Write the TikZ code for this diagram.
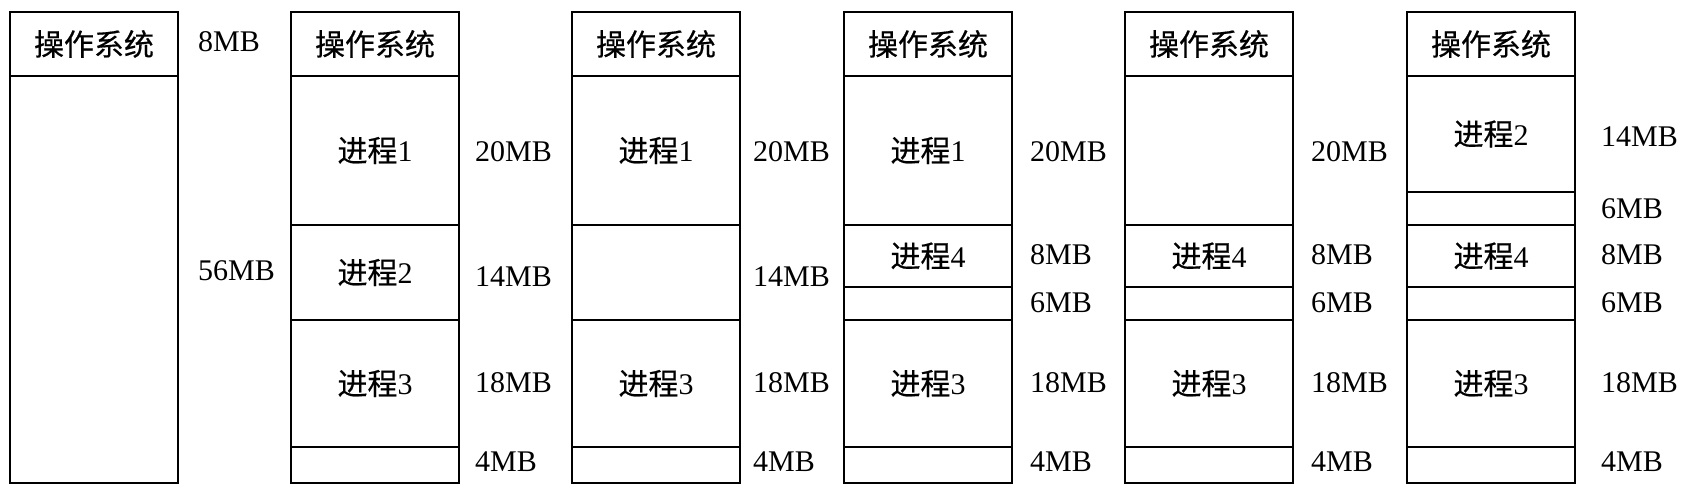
\documentclass[tikz,border=0pt]{standalone}
\usepackage{fontspec}
\setmainfont{Liberation Serif}
\newfontfamily\cjk[FakeBold=0.5]{Noto Sans CJK SC}
\newcommand\bigfnt{\fontsize{30pt}{36pt}\selectfont}
\begin{document}
\begin{tikzpicture}[x=1pt,y=-1pt]
\tikzset{
  seg/.style={draw, line width=1.8pt, minimum width=168pt, inner sep=0pt, outer sep=0pt, anchor=north west, font=\bigfnt},
  frame/.style={draw, line width=2.8pt},
  lbl/.style={anchor=west, inner sep=0pt, font=\bigfnt}
}
\useasboundingbox (0,0) rectangle (1690,492);
% column 1
\node[seg, minimum height=64pt]  (a0) at (10,12) {\cjk 操作系统};
\node[seg, minimum height=407pt] (a1) at (10,76) {};
\draw[frame] (a0.north west) rectangle (a1.south east);
\node[lbl] (la0) at (198,42) {8MB};
\node[lbl] (la1) at (198,271) {56MB};
% column 2
\node[seg, minimum height=64pt]  (b0) at (291,12) {\cjk 操作系统};
\node[seg, minimum height=149pt] (b1) at (291,76) {{\cjk 进程}1};
\node[seg, minimum height=95pt]  (b2) at (291,225) {{\cjk 进程}2};
\node[seg, minimum height=127pt] (b3) at (291,320) {{\cjk 进程}3};
\node[seg, minimum height=36pt]  (b4) at (291,447) {};
\draw[frame] (b0.north west) rectangle (b4.south east);
\node[lbl] (lb1) at (475,152) {20MB};
\node[lbl] (lb2) at (475,277) {14MB};
\node[lbl] (lb3) at (475,383) {18MB};
\node[lbl] (lb4) at (475,462) {4MB};
% column 3
\node[seg, minimum height=64pt]  (c0) at (572,12) {\cjk 操作系统};
\node[seg, minimum height=149pt] (c1) at (572,76) {{\cjk 进程}1};
\node[seg, minimum height=95pt]  (c2) at (572,225) {};
\node[seg, minimum height=127pt] (c3) at (572,320) {{\cjk 进程}3};
\node[seg, minimum height=36pt]  (c4) at (572,447) {};
\draw[frame] (c0.north west) rectangle (c4.south east);
\node[lbl] (lc1) at (753,152) {20MB};
\node[lbl] (lc2) at (753,277) {14MB};
\node[lbl] (lc3) at (753,383) {18MB};
\node[lbl] (lc4) at (753,462) {4MB};
% column 4
\node[seg, minimum height=64pt]  (d0) at (844,12) {\cjk 操作系统};
\node[seg, minimum height=149pt] (d1) at (844,76) {{\cjk 进程}1};
\node[seg, minimum height=62pt]  (d2) at (844,225) {{\cjk 进程}4};
\node[seg, minimum height=33pt]  (d3) at (844,287) {};
\node[seg, minimum height=127pt] (d4) at (844,320) {{\cjk 进程}3};
\node[seg, minimum height=36pt]  (d5) at (844,447) {};
\draw[frame] (d0.north west) rectangle (d5.south east);
\node[lbl] (ld1) at (1030,152) {20MB};
\node[lbl] (ld2) at (1030,255) {8MB};
\node[lbl] (ld3) at (1030,303) {6MB};
\node[lbl] (ld4) at (1030,383) {18MB};
\node[lbl] (ld5) at (1030,462) {4MB};
% column 5
\node[seg, minimum height=64pt]  (e0) at (1125,12) {\cjk 操作系统};
\node[seg, minimum height=149pt] (e1) at (1125,76) {};
\node[seg, minimum height=62pt]  (e2) at (1125,225) {{\cjk 进程}4};
\node[seg, minimum height=33pt]  (e3) at (1125,287) {};
\node[seg, minimum height=127pt] (e4) at (1125,320) {{\cjk 进程}3};
\node[seg, minimum height=36pt]  (e5) at (1125,447) {};
\draw[frame] (e0.north west) rectangle (e5.south east);
\node[lbl] (le1) at (1311,152) {20MB};
\node[lbl] (le2) at (1311,255) {8MB};
\node[lbl] (le3) at (1311,303) {6MB};
\node[lbl] (le4) at (1311,383) {18MB};
\node[lbl] (le5) at (1311,462) {4MB};
% column 6
\node[seg, minimum height=64pt]  (f0) at (1407,12) {\cjk 操作系统};
\node[seg, minimum height=116pt] (f1) at (1407,76) {{\cjk 进程}2};
\node[seg, minimum height=33pt]  (f2) at (1407,192) {};
\node[seg, minimum height=62pt]  (f3) at (1407,225) {{\cjk 进程}4};
\node[seg, minimum height=33pt]  (f4) at (1407,287) {};
\node[seg, minimum height=127pt] (f5) at (1407,320) {{\cjk 进程}3};
\node[seg, minimum height=36pt]  (f6) at (1407,447) {};
\draw[frame] (f0.north west) rectangle (f6.south east);
\node[lbl] (lf1) at (1601,137) {14MB};
\node[lbl] (lf2) at (1601,209) {6MB};
\node[lbl] (lf3) at (1601,255) {8MB};
\node[lbl] (lf4) at (1601,303) {6MB};
\node[lbl] (lf5) at (1601,383) {18MB};
\node[lbl] (lf6) at (1601,462) {4MB};
\end{tikzpicture}
\end{document}
